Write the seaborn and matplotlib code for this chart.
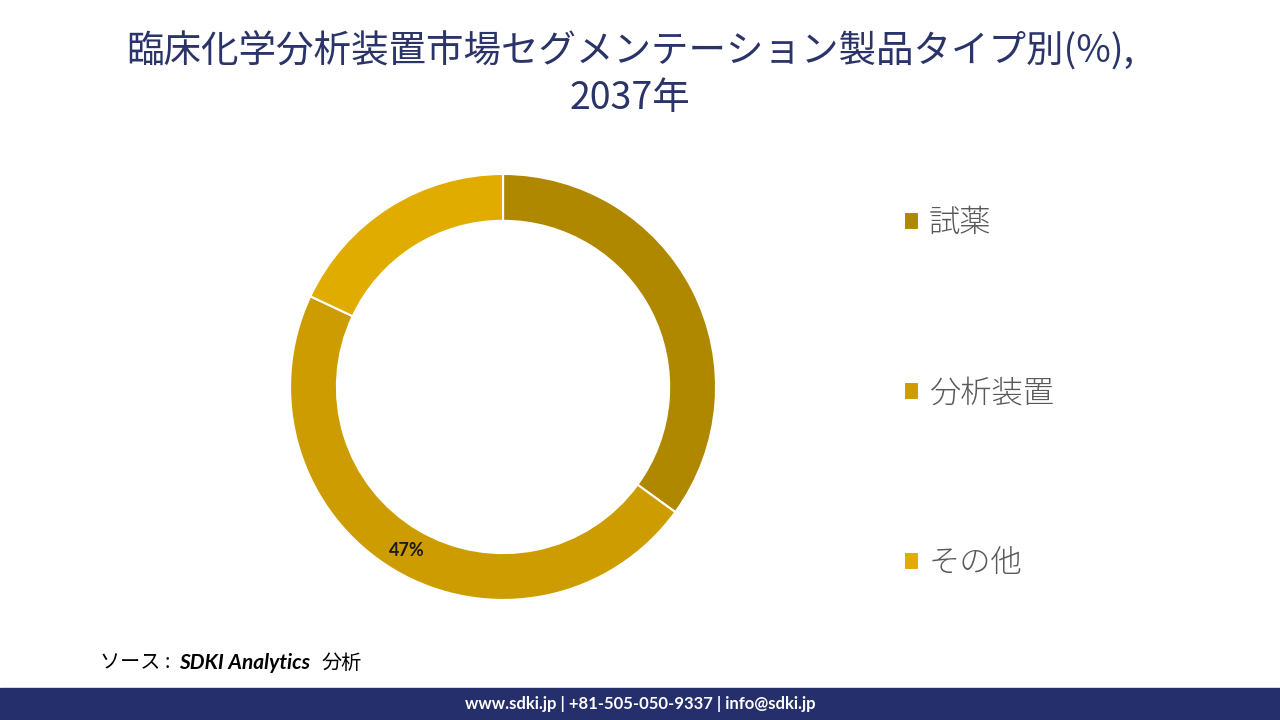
import matplotlib
matplotlib.use("Agg")
import matplotlib.pyplot as plt
import seaborn as sns
import numpy as np
from matplotlib.patches import Rectangle

sns.set_theme(style="white")
plt.rcParams['font.family'] = ['Noto Sans CJK JP', 'DejaVu Sans']

# データ
categories = ["試薬", "分析装置", "その他"]
shares = [35, 47, 18]
colors = ["#B08800", "#CC9C00", "#E0AC00"]
shown_labels = {"分析装置": "47%"}

TITLE = "臨床化学分析装置市場セグメンテーション製品タイプ別(%),\n2037年"

fig = plt.figure(figsize=(12.8, 7.2), dpi=100)
ax = fig.add_axes([0.2266, 0.1667, 0.3328, 0.5917])

wedges, _ = ax.pie(shares, colors=colors, startangle=90, counterclock=False,
                   radius=1.0,
                   wedgeprops=dict(width=0.22, edgecolor="white", linewidth=1.5))
ax.set_aspect("equal")
ax.set_xlim(-1, 1)
ax.set_ylim(-1, 1)
ax.axis("off")

# 分析装置だけにラベル
for w, cat in zip(wedges, categories):
    if cat in shown_labels:
        mid = np.deg2rad((w.theta1 + w.theta2) / 2)
        ax.text(0.89 * np.cos(mid), 0.89 * np.sin(mid), shown_labels[cat],
                ha="center", va="center", fontsize=13, fontweight="bold",
                color="#1a1a1a", family=["Lato", "DejaVu Sans"])

# 凡例
leg = fig.legend(wedges, categories, loc="upper left",
                 bbox_to_anchor=(0.684, 0.751), frameon=False,
                 prop=dict(size=22.5, weight="light"),
                 labelcolor="#595959", handlelength=0.5,
                 handleheight=0.5, handletextpad=0.3, labelspacing=4.41)

# タイトル
fig.text(0.492, 0.955, TITLE, ha="center", va="top", fontsize=27,
         color="#2B3468", linespacing=1.25)

# 出典
fig.text(0.078, 0.079, "ソース :", ha="left", va="center", fontsize=14.5,
         style="italic", color="black")
fig.text(0.140, 0.079, "SDKI Analytics", ha="left", va="center", fontsize=15,
         style="italic", fontweight="bold", color="black",
         family=["Lato", "DejaVu Sans"])
fig.text(0.251, 0.079, "分析", ha="left", va="center", fontsize=14.5,
         style="italic", color="black")

# フッター
fig.patches.append(Rectangle((0, 0), 1, 0.0445, transform=fig.transFigure,
                             color="#252F6B", zorder=0))
fig.text(0.5, 0.022, "www.sdki.jp | +81-505-050-9337 | info@sdki.jp",
         ha="center", va="center", fontsize=12, fontweight="bold",
         color="white", family=["Lato", "DejaVu Sans"])

fig.savefig("out.png", dpi=100, facecolor="white")
